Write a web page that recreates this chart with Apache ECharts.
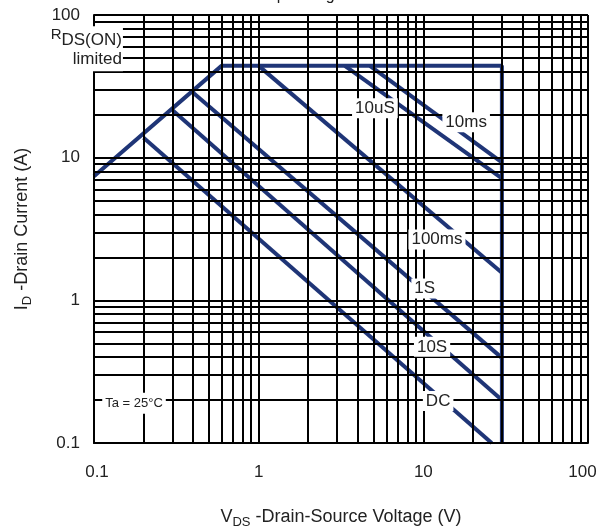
<!DOCTYPE html>
<html>
<head>
<meta charset="utf-8">
<script src="https://cdn.jsdelivr.net/npm/echarts@6/dist/echarts.min.js"></script>
<style>html,body{margin:0;padding:0;background:#fff}#c{width:600px;height:528px}</style>
</head>
<body>
<div id="c"></div>
<script>
// ---- data ----
const xTicks = [0.1, 1, 10, 100];
const yTicks = [0.1, 1, 10, 100];
const gridX = [0.1,0.2,0.3,0.4,0.5,0.6,0.7,0.8,0.9,1,2,3,4,5,6,7,8,9,10,20,30,40,50,60,70,80,90,100];
const gridY = [0.1,0.2,0.3,0.4,0.5,0.6,0.7,0.8,0.9,1,2,3,4,5,6,7,8,9,10,20,30,40,50,60,70,80,90,100];
const soaBoundary = [[0.1, 7.4], [0.595, 44], [30, 44], [30, 0.1]];
const line10us = [[3.34, 44], [30, 7.16]];
const line10ms = [[4.74, 44], [30, 9.27]];
const line100ms = [[1.0, 44], [30, 1.56]];
const line1s = [[0.4, 28.5], [30, 0.395]];
const line10s = [[0.3, 21.5], [30, 0.2]];
const lineDC = [[0.2, 13.8], [26, 0.1]];
const pulseLabels = ['10uS', '10ms', '100ms', '1S', '10S', 'DC'];
const labelAnchorX = [5.08, 18.2, 12.1, 10.2, 11.3, 12.3];
const labelAnchorY = [22.2, 17.7, 2.67, 1.21, 0.472, 0.197];
const tempLabel = 'Ta = 25°C';
const tempAnchor = [0.175, 0.19];
const rdsAnchor = [0.152, 58];

// ---- chart ----
const FONT = "'Liberation Sans', Arial, sans-serif";
const NAVY = '#1f3577';
const TXT = '#222';
const chart = echarts.init(document.getElementById('c'), null, {renderer: 'canvas'});

const gridLines = [];
gridX.forEach(v => gridLines.push({xAxis: v}));
gridY.forEach(v => gridLines.push({yAxis: v}));

function curve(name, data) {
  return {
    name: name, type: 'line', data: data, showSymbol: false, symbol: 'none',
    lineStyle: {color: NAVY, width: 4}, z: 3, silent: true, animation: false, clip: true
  };
}
const subRich = {
  v: {fontSize: 18, fontFamily: FONT, color: TXT, lineHeight: 24, verticalAlign: 'middle'},
  s: {fontSize: 13, fontFamily: FONT, color: TXT, lineHeight: 14, verticalAlign: 'bottom'}
};

const labelData = pulseLabels.map((t, i) => [labelAnchorX[i], labelAnchorY[i], t]);
const hidden = {color: 'rgba(255,255,255,0)', borderWidth: 0, opacity: 1};

const option = {
  animation: false,
  backgroundColor: '#fff',
  grid: {left: 94, right: 12, top: 15, bottom: 85, show: false, containLabel: false, outerBoundsMode: 'none'},
  graphic: [{
    type: 'text', left: 'center', top: -12,
    style: {text: 'Safe Operating Area', font: "16px " + FONT, fill: TXT}
  }],
  xAxis: {
    type: 'log', logBase: 10, min: 0.1, max: 100,
    axisLine: {show: true, lineStyle: {color: '#000', width: 2}},
    axisTick: {show: false},
    splitLine: {show: false},
    axisLabel: {
      margin: 21, color: TXT, fontSize: 17, fontFamily: FONT,
      formatter: v => {
        const n = +v;
        if (xTicks.indexOf(n) < 0) return '';
        if (n === xTicks[0]) return '{first|' + n + '}';
        if (n === xTicks[xTicks.length - 1]) return '{last|' + n + '}';
        return String(n);
      },
      rich: {
        first: {fontSize: 17, fontFamily: FONT, color: TXT, padding: [0, 0, 0, 6]},
        last: {fontSize: 17, fontFamily: FONT, color: TXT, padding: [0, 11, 0, 0]}
      }
    },
    name: '{v|V}{s|DS}{v| -Drain-Source Voltage (V)}',
    nameLocation: 'middle', nameGap: 62,
    nameTextStyle: {rich: subRich}
  },
  yAxis: {
    type: 'log', logBase: 10, min: 0.1, max: 100,
    axisLine: {show: true, lineStyle: {color: '#000', width: 2}},
    axisTick: {show: false},
    splitLine: {show: false},
    axisLabel: {
      margin: 14, color: TXT, fontSize: 17, fontFamily: FONT,
      formatter: v => (yTicks.indexOf(+v) >= 0 ? String(+v) : '')
    },
    name: '{v|I}{s|D}{v| -Drain Current (A)}',
    nameLocation: 'middle', nameGap: 60,
    nameTextStyle: {rich: subRich}
  },
  series: [
    {
      name: 'grid', type: 'line', data: [], z: 1, silent: true,
      markLine: {
        silent: true, symbol: ['none', 'none'], animation: false,
        label: {show: false},
        lineStyle: {color: '#000', width: 2, type: 'solid'},
        emphasis: {disabled: true},
        data: gridLines
      }
    },
    curve('SOA limit', soaBoundary),
    curve('10uS', line10us),
    curve('10ms', line10ms),
    curve('100ms', line100ms),
    curve('1S', line1s),
    curve('10S', line10s),
    curve('DC', lineDC),
    {
      name: 'labels', type: 'scatter', data: labelData, symbolSize: 2,
      itemStyle: hidden, z: 6, silent: true, labelLayout: {hideOverlap: false},
      label: {
        show: true, position: 'inside', formatter: p => p.data[2], opacity: 1,
        color: TXT, fontSize: 17, fontFamily: FONT,
        backgroundColor: '#fff', padding: [2, 3, 1, 3]
      }
    },
    {
      name: 'temp', type: 'scatter', data: [[tempAnchor[0], tempAnchor[1], tempLabel]], symbolSize: 2,
      itemStyle: hidden, z: 6, silent: true,
      label: {
        show: true, position: 'inside', formatter: p => p.data[2], opacity: 1,
        color: TXT, fontSize: 13, fontFamily: FONT,
        backgroundColor: '#fff', padding: [4, 3, 4, 3]
      }
    },
    {
      name: 'rds', type: 'scatter', data: [[rdsAnchor[0], rdsAnchor[1]]], symbolSize: 2,
      itemStyle: hidden, z: 6, silent: true,
      label: {
        show: true, position: 'left', distance: 0, opacity: 1,
        formatter: '{r|R}{d|DS(ON)}\n{n|limited}',
        backgroundColor: '#fff', padding: [1, 1, 2, 4], align: 'right',
        rich: {
          r: {fontSize: 15, fontFamily: FONT, color: TXT, lineHeight: 22, verticalAlign: 'top', align: 'right'},
          d: {fontSize: 17, fontFamily: FONT, color: TXT, lineHeight: 22, verticalAlign: 'bottom', align: 'right'},
          n: {fontSize: 17, fontFamily: FONT, color: TXT, lineHeight: 20, align: 'right'}
        }
      }
    }
  ]
};
chart.setOption(option);
</script>
</body>
</html>
